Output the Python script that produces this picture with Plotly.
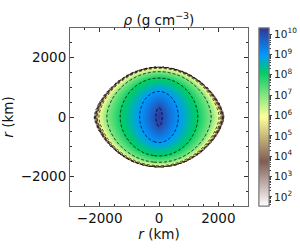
import numpy as np
import plotly.graph_objects as go

# ---- data ----
center_log_rho = 10.25
level_log_rho = [10, 9, 8, 7, 6, 5, 4, 3, 2, 1.5]
level_eq_km   = [105, 650, 1310, 1760, 2030, 2090, 2140, 2175, 2200, 2210]
level_pol_km  = [310, 860, 1315, 1530, 1645, 1672, 1688, 1697, 1703, 1706]
level_shape_q = [2.0, 2.0, 1.9, 1.75, 1.6, 1.55, 1.5, 1.5, 1.5, 1.5]
contour_levels = [2, 3, 4, 5, 6, 7, 8, 9, 10]
cbar_tick_exp = [2, 3, 4, 5, 6, 7, 8, 9, 10]
axis_range = [-3000, 3000]
axis_major_ticks = [-2000, 0, 2000]

# ---- build density field from level contours ----
g = np.linspace(-3000, 3000, 301)
X, Y = np.meshgrid(g, g)
R = np.hypot(X, Y).ravel()
TH = np.arctan2(Y, X).ravel()
c, s = np.abs(np.cos(TH)), np.abs(np.sin(TH))

radii = [np.zeros_like(R)]
for a, b, q in zip(level_eq_km, level_pol_km, level_shape_q):
    lo = np.zeros_like(R)
    hi = np.full_like(R, max(a, b) * 1.01)
    for _ in range(45):
        mid = 0.5 * (lo + hi)
        f = (mid * c / a) ** 2 + (mid * s / b) ** q - 1
        lo = np.where(f < 0, mid, lo)
        hi = np.where(f >= 0, mid, hi)
    radii.append(0.5 * (lo + hi))
radii = np.maximum.accumulate(np.array(radii), axis=0)
L = np.array([center_log_rho] + level_log_rho)
K = len(L) - 1
idx = np.sum(radii <= R[None, :], axis=0) - 1
inside = idx < K
idc = np.clip(idx, 0, K - 1)
cols = np.arange(R.size)
r0 = radii[idc, cols]
r1 = radii[idc + 1, cols]
t = np.clip((R - r0) / np.maximum(r1 - r0, 1e-9), 0, 1)
Z = L[idc] + t * (L[idc + 1] - L[idc])
Z = np.where(inside, Z, np.nan).reshape(X.shape)

terrain_r = [
    [0.0, "rgb(255,255,255)"],
    [0.25, "rgb(128,92,84)"],
    [0.5, "rgb(255,255,153)"],
    [0.75, "rgb(0,204,102)"],
    [0.85, "rgb(0,153,255)"],
    [1.0, "rgb(51,51,153)"],
]

zmin, zmax = 1.55, 10.3
minor_vals = [e + np.log10(m) for e in range(1, 11) for m in range(2, 10)
              if zmin <= e + np.log10(m) <= zmax]

cbar_base = dict(
    x=1.062, xanchor="left", xref="paper", y=0.5, yanchor="middle",
    lenmode="pixels", len=178, thickness=10,
    outlinecolor="#777", outlinewidth=1, ypad=0, xpad=0,
    tickcolor="#444",
)

fig = go.Figure()
# minor-tick colorbar (drawn underneath, no labels)
fig.add_trace(go.Scatter(
    x=[None], y=[None], mode="markers", hoverinfo="skip",
    marker=dict(color=[zmin], colorscale=terrain_r, cmin=zmin, cmax=zmax, showscale=True,
                colorbar=dict(**cbar_base, tickvals=minor_vals, ticks="outside", ticklen=2,
                              showticklabels=False)),
))
fig.add_trace(go.Heatmap(
    x=g, y=g, z=Z, colorscale=terrain_r, zmin=zmin, zmax=zmax,
    zsmooth="best", hoverinfo="skip",
    colorbar=dict(**cbar_base,
                  tickvals=cbar_tick_exp, ticktext=[f"10<sup>{e}</sup>" for e in cbar_tick_exp],
                  ticks="outside", ticklen=3,
                  tickfont=dict(family="DejaVu Sans", size=10.5, color="#222")),
))
fig.add_trace(go.Contour(
    x=g, y=g, z=Z, showscale=False, hoverinfo="skip",
    contours=dict(start=contour_levels[0], end=contour_levels[-1], size=1, coloring="none"),
    line=dict(color="black", width=0.8, dash="3px,2px"),
))

axis_common = dict(
    range=axis_range, tickvals=axis_major_ticks, ticks="inside", ticklen=4,
    tickcolor="#333", showline=True, linecolor="#666", linewidth=1, mirror="allticks",
    showgrid=False, zeroline=False,
    minor=dict(dtick=500, ticks="inside", ticklen=2, tickcolor="#333", showgrid=False),
    tickfont=dict(family="DejaVu Sans", size=13.5, color="#111"),
)
fig.update_xaxes(**axis_common, title=dict(text="<i>r</i> (km)", standoff=2,
                 font=dict(family="DejaVu Sans", size=13.5, color="#111")),
                 tickmode="array")
fig.update_yaxes(**axis_common, title=dict(text="<i>r</i> (km)", standoff=4,
                 font=dict(family="DejaVu Sans", size=13.5, color="#111")),
                 tickmode="array")
fig.update_layout(
    width=300, height=250,
    margin=dict(l=70, r=52, t=28, b=44, autoexpand=False),
    paper_bgcolor="white", plot_bgcolor="white",
    title=dict(text="<i>ρ</i> (g cm<sup>−3</sup>)", x=0.5, xref="paper", xanchor="center",
               y=1, yref="paper", yanchor="bottom", pad=dict(b=3),
               font=dict(family="DejaVu Sans", size=13.5, color="#111")),
    showlegend=False,
)
fig.write_html("out.html", config={"displayModeBar": False},
               post_script="document.body.style.margin='0px';")
